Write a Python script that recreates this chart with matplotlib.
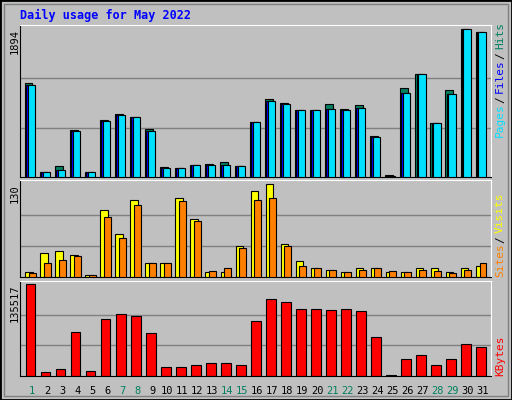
import matplotlib
matplotlib.use("Agg")
import matplotlib.pyplot as plt
from matplotlib.patches import Rectangle
import numpy as np

days = list(range(1, 32))
weekend = [1, 7, 8, 14, 15, 21, 22, 28, 29]
hits = [1200, 69, 146, 596, 69, 724, 801, 763, 608, 133, 120, 159, 171, 197, 146, 698, 994, 943, 853, 853, 930, 866, 917, 531, 30, 1136, 1316, 686, 1110, 1894, 1855]
files = [1174, 69, 94, 583, 69, 711, 788, 763, 583, 120, 120, 159, 159, 159, 146, 698, 968, 930, 853, 853, 866, 853, 878, 506, 17, 1071, 1316, 686, 1058, 1894, 1855]
pages = files
sites = [7.5, 33, 36, 31, 3, 93, 60, 107, 19, 19, 110, 81, 7.5, 7.5, 43, 120, 130, 46, 22, 12, 10, 7.5, 12, 12, 7.5, 7.5, 12, 12, 7.5, 13, 16]
visits = [6, 20, 24, 29, 3, 84, 54, 100, 19, 19, 106, 78, 9, 12, 40, 107, 110, 44, 16, 12, 10, 7.5, 10, 12, 9, 7.5, 10, 9, 6, 10, 19]
kbytes = [135517, 6400, 10840, 65540, 7880, 83280, 90670, 87720, 64060, 13800, 13800, 16750, 19710, 19710, 16750, 80320, 112850, 108410, 98060, 98060, 96590, 98060, 95110, 58150, 1970, 25620, 31540, 16750, 25620, 47800, 43370]

W, H = 512, 400
BG = "#C0C0C0"
GREEN = "#00805F"
fig = plt.figure(figsize=(W/100, H/100), dpi=100, facecolor=BG)
mono = "DejaVu Sans Mono"

fig.add_artist(Rectangle((0, 0), 1, 1, transform=fig.transFigure, fill=False, ec="black", lw=2))
fig.add_artist(Rectangle((4/W, 4/H), 1-8/W, 1-8/H, transform=fig.transFigure, fill=False, ec="#808080", lw=1))

def ax_at(x0, y0, x1, y1):
    a = fig.add_axes([x0/W, 1-y1/H, (x1-x0)/W, (y1-y0)/H])
    a.set_facecolor(BG)
    a.set_xlim(0.3, 31.66)
    a.set_xticks([])
    for s in ("left", "bottom"):
        a.spines[s].set_color("black")
    for s in ("top", "right"):
        a.spines[s].set_color("white")
    a.tick_params(left=False, labelleft=False)
    return a

x = np.array(days)
edge = dict(edgecolor="black", linewidth=0.8)

a1 = ax_at(20, 25, 491, 177)
m1 = max(hits)
a1.set_ylim(0, m1*152/148)
for g in (m1/3, 2*m1/3):
    a1.axhline(g, color="#808080", lw=1, zorder=0)
a1.bar(x-0.12, hits, width=0.5, color=GREEN, **edge, zorder=2)
a1.bar(x-0.05, files, width=0.5, color="#0000FF", **edge, zorder=3)
a1.bar(x+0.05, pages, width=0.5, color="#00E0FF", **edge, zorder=4)

a2 = ax_at(20, 180, 491, 277)
m2 = max(sites)
a2.set_ylim(0, m2*97/93)
for g in (m2/3, 2*m2/3):
    a2.axhline(g, color="#808080", lw=1, zorder=0)
a2.bar(x-0.1, sites, width=0.5, color="#FFFF00", **edge, zorder=2)
a2.bar(x+0.12, visits, width=0.45, color="#FF8000", **edge, zorder=3)

a3 = ax_at(20, 281, 491, 376)
m3 = max(kbytes)
a3.set_ylim(0, m3*95/92)
for g in (m3/3, 2*m3/3):
    a3.axhline(g, color="#808080", lw=1, zorder=0)
a3.bar(x, kbytes, width=0.65, color="#FF0000", **edge, zorder=2)
for d in days:
    a3.text(d+0.1, -0.1, str(d), transform=a3.get_xaxis_transform(), ha="center", va="top",
            fontsize=7.5, family=mono, color=GREEN if d in weekend else "black")

fig.text(20/W, 1-15/H, "Daily usage for May 2022", fontsize=8.5, family=mono, weight="bold",
         color="#0000FF", va="center")
for y, s in ((29, str(m1)), (184, str(int(m2))), (284, str(m3))):
    fig.text(15/W, 1-y/H, s, rotation=90, fontsize=7.5, family=mono, ha="center", va="top")

def rlabel(y_bottom, parts):
    y = y_bottom
    for txt, col in parts:
        fig.text(500/W, 1-y/H, txt, rotation=90, fontsize=8, family=mono, color=col,
                 ha="center", va="bottom")
        y -= len(txt)*6 + 4
rlabel(137, [("Pages", "#00E0FF"), ("/", "black"), ("Files", "#0000FF"), ("/", "black"), ("Hits", GREEN)])
rlabel(277, [("Sites", "#FF8000"), ("/", "black"), ("Visits", "#FFFF00")])
rlabel(376, [("KBytes", "#FF0000")])

fig.savefig("out.png", dpi=100, facecolor=BG)
